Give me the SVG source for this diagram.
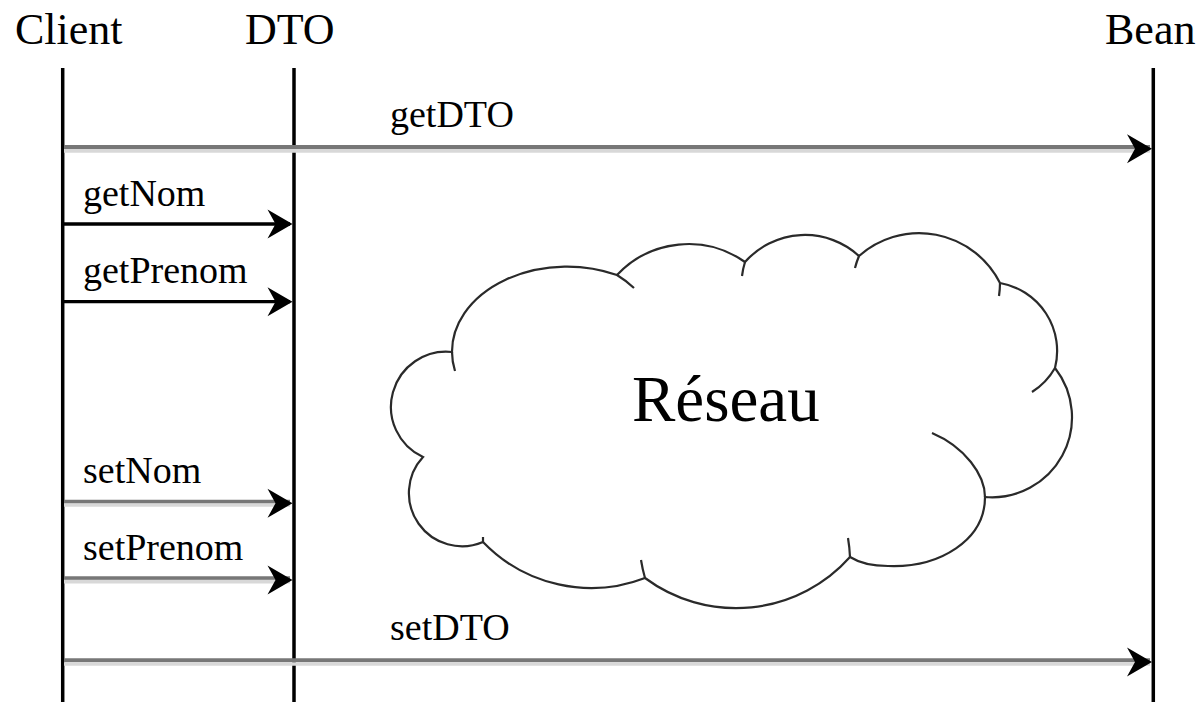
<svg xmlns="http://www.w3.org/2000/svg" width="1202" height="702" viewBox="0 0 1202 702">
<defs>
<style>
.title{font-family:"Liberation Serif","Times New Roman",serif;font-size:44px;fill:#000}
.lbl{font-family:"Liberation Serif","Times New Roman",serif;font-size:38px;fill:#000}
.big{font-family:"Liberation Serif","Times New Roman",serif;font-size:65px;fill:#000}
.life{stroke:#000;stroke-width:3.5;fill:none}
.blk{stroke:#000;stroke-width:3.3;fill:none}
.dk{stroke:#777;stroke-width:4;fill:none}
.lt{stroke:#d8d8d8;stroke-width:3.7;fill:none}
.cloud{fill:#fff;stroke:#2a2a2a;stroke-width:2.2}
.tail{fill:none;stroke:#2a2a2a;stroke-width:2.2}
</style>
<path id="ah" d="M0,0 L-25,-14.5 L-17,0 L-25,14.5 Z" fill="#000"/>
</defs>
<rect width="1202" height="702" fill="#fff"/>

<g id="client">
<text class="title" x="15" y="44">Client</text>
<line class="life" x1="62.7" y1="68" x2="62.7" y2="702"/>
</g>
<g id="dto">
<text class="title" x="245" y="44">DTO</text>
<line class="life" x1="294" y1="68" x2="294" y2="702"/>
</g>
<g id="bean">
<text class="title" x="1105" y="44">Bean</text>
<line class="life" x1="1153.3" y1="68" x2="1153.3" y2="702"/>
</g>

<g id="reseau">
<path class="cloud" d="M452,352 A115,85 0 0 1 617,275 A98,98 0 0 1 745,262 A80,80 0 0 1 859,256 A90.5,90.5 0 0 1 1000,283 A69,69 0 0 1 1055,368 A80,80 0 0 1 985,497 C985,540 940,568 888,566 C870,566 858,562 850,557 A152.6,152.6 0 0 1 645,578 A150,150 0 0 1 483,542 A53.2,53.2 0 0 1 423,457 A55.2,55.2 0 0 1 452,352 Z"/>
<path class="tail" d="M455,371 A115,85 0 0 1 452,352 M617,275 A115,85 0 0 1 634,288 M742,276 A80,80 0 0 1 745,262 M855,268 A90.5,90.5 0 0 1 859,256 M1000,283 A90.5,90.5 0 0 1 999,296 M1055,368 A69,69 0 0 1 1032,392 M985,497 C985,475 965,447 932,433 M848,538 A152.6,152.6 0 0 1 850,557 M645,578 A152.6,152.6 0 0 1 641,560 M483,542 L483,537"/>
<text class="big" x="632" y="421">Réseau</text>
</g>

<g id="connectors">
<g id="getDTO">
<line class="dk" x1="64" y1="147" x2="1150" y2="147"/>
<line class="lt" x1="64" y1="150.8" x2="1150" y2="150.8"/>
<use href="#ah" transform="translate(1152,148.8)"/>
<text class="lbl" x="390" y="127">getDTO</text>
</g>
<g id="getNom">
<line class="blk" x1="64" y1="224" x2="290" y2="224"/>
<use href="#ah" transform="translate(292.5,224)"/>
<text class="lbl" x="83" y="206">getNom</text>
</g>
<g id="getPrenom">
<line class="blk" x1="64" y1="301.7" x2="290" y2="301.7"/>
<use href="#ah" transform="translate(292.5,301.7)"/>
<text class="lbl" x="83" y="283">getPrenom</text>
</g>
<g id="setNom">
<line class="dk" x1="64" y1="501.7" x2="290" y2="501.7"/>
<line class="lt" x1="64" y1="505" x2="290" y2="505"/>
<use href="#ah" transform="translate(292.5,503.3)"/>
<text class="lbl" x="83" y="483">setNom</text>
</g>
<g id="setPrenom">
<line class="dk" x1="64" y1="578.3" x2="290" y2="578.3"/>
<line class="lt" x1="64" y1="581.7" x2="290" y2="581.7"/>
<use href="#ah" transform="translate(292.5,580)"/>
<text class="lbl" x="83" y="560">setPrenom</text>
</g>
<g id="setDTO">
<line class="dk" x1="64" y1="660.2" x2="1150" y2="660.2"/>
<line class="lt" x1="64" y1="664" x2="1150" y2="664"/>
<use href="#ah" transform="translate(1152,662)"/>
<text class="lbl" x="390" y="640">setDTO</text>
</g>
</g>
</svg>
